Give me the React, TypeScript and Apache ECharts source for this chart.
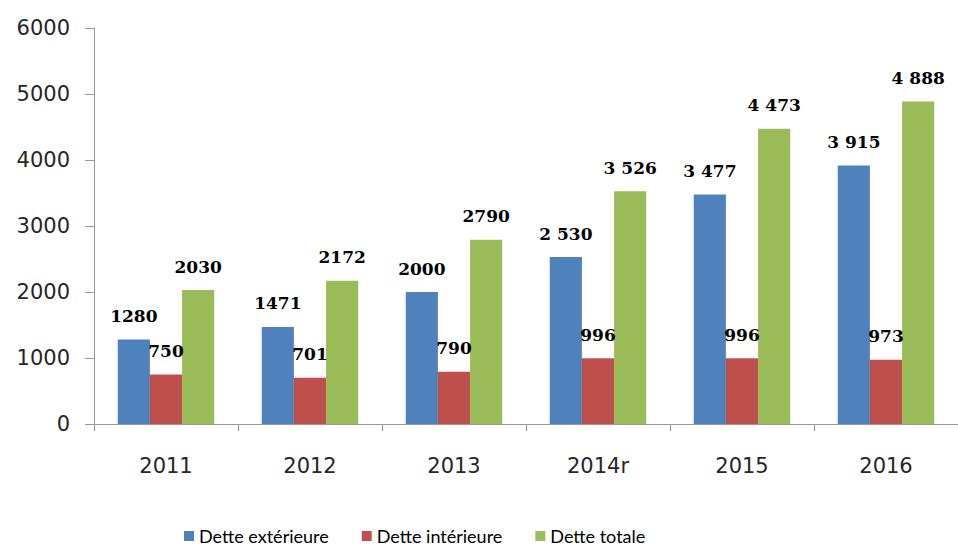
import React, { useEffect, useRef } from "react";
import * as echarts from "echarts";

const categories = ["2011", "2012", "2013", "2014r", "2015", "2016"];
const detteExterieure = [1280, 1471, 2000, 2530, 3477, 3915];
const detteInterieure = [750, 701, 790, 996, 996, 973];
const detteTotale = [2030, 2172, 2790, 3526, 4473, 4888];
const labelsExterieure = ["1280", "1471", "2000", "2 530", "3 477", "3 915"];
const labelsInterieure = ["750", "701", "790", "996", "996", "973"];
const labelsTotale = ["2030", "2172", "2790", "3 526", "4 473", "4 888"];
const seriesNames = ["Dette extérieure", "Dette intérieure", "Dette totale"];
const colors = ["#4F81BD", "#C0504D", "#9BBB59"];

export default function App() {
  const ref = useRef<HTMLDivElement>(null);
  useEffect(() => {
    if (!ref.current) return;
    const chart = echarts.init(ref.current, undefined, { renderer: "svg" });
    const labelStyle = (texts: string[]) => ({
      show: true,
      position: "top",
      distance: 15,
      color: "#000",
      fontFamily: "DejaVu Serif",
      fontWeight: "bold",
      fontSize: 17,
      formatter: (p: any) => texts[p.dataIndex],
    });
    const mk = (i: number, data: number[], texts: string[]) => ({
      name: seriesNames[i],
      type: "bar",
      data,
      barGap: "0%",
      barCategoryGap: "33%",
      itemStyle: { color: colors[i] },
      label: labelStyle(texts),
    });
    chart.setOption({
      animation: false,
      color: colors,
      grid: { left: 94, right: -12, top: 28, bottom: 123 },
      legend: {
        left: 179,
        top: 522,
        itemWidth: 10,
        itemHeight: 10,
        itemGap: 33,
        icon: "rect",
        textStyle: { fontFamily: "Lato", fontSize: 18, color: "#000" },
        data: seriesNames,
      },
      xAxis: {
        type: "category",
        data: categories,
        axisLine: { show: true, lineStyle: { color: "#9A9A9A", width: 1 } },
        axisTick: { show: true, length: 7, lineStyle: { color: "#9A9A9A" } },
        axisLabel: {
          margin: 31,
          fontFamily: "DejaVu Sans",
          fontSize: 21,
          color: "#262626",
        },
      },
      yAxis: {
        type: "value",
        min: 0,
        max: 6000,
        interval: 1000,
        splitLine: { show: false },
        axisLine: { show: true, lineStyle: { color: "#9A9A9A", width: 1 } },
        axisTick: { show: true, length: 9, lineStyle: { color: "#9A9A9A" } },
        axisLabel: {
          margin: 24,
          fontFamily: "DejaVu Sans",
          fontSize: 21,
          color: "#262626",
          formatter: (v: number) => String(v),
        },
      },
      series: [
        mk(0, detteExterieure, labelsExterieure),
        mk(1, detteInterieure, labelsInterieure),
        mk(2, detteTotale, labelsTotale),
      ],
    });
    return () => chart.dispose();
  }, []);
  return (
    <div
      ref={ref}
      style={{ position: "absolute", left: 0, top: 0, width: 958, height: 547, background: "#fff" }}
    />
  );
}
